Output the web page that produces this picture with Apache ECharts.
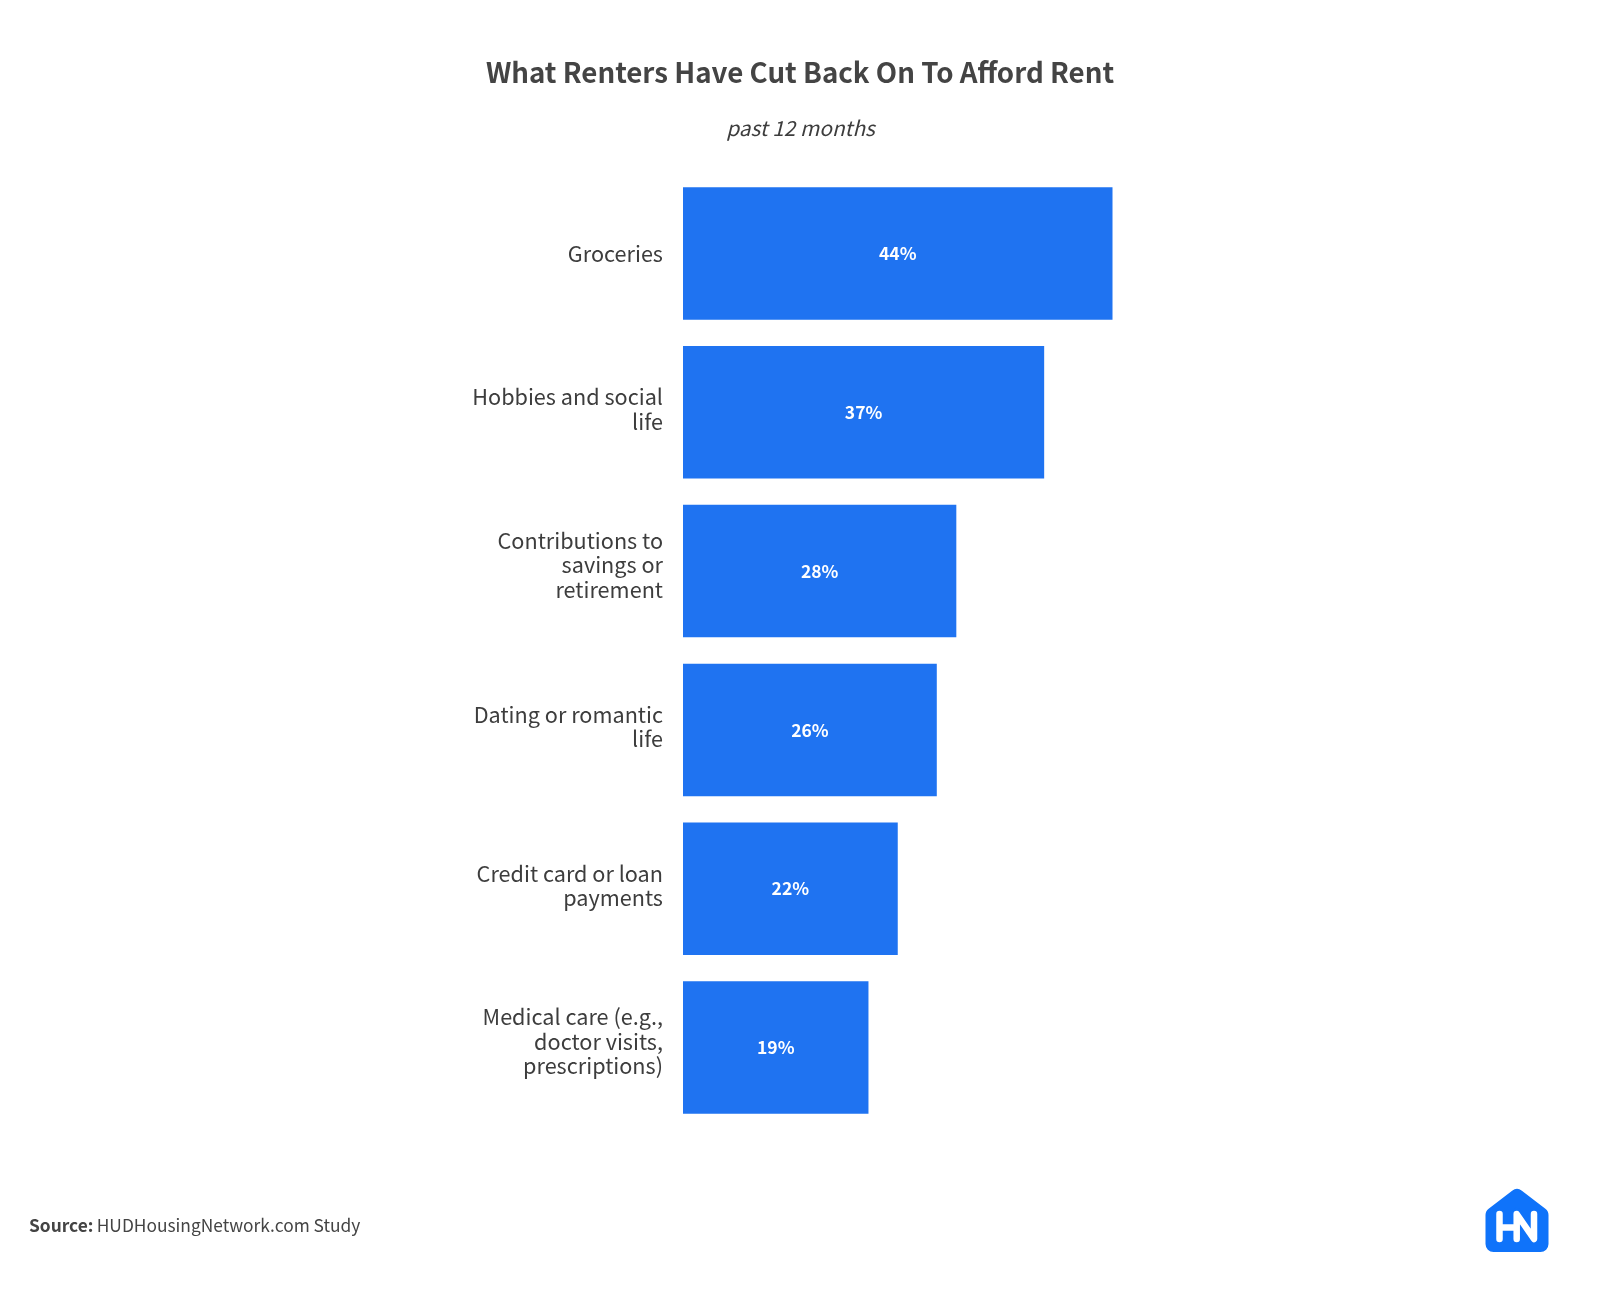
<!DOCTYPE html>
<html>
<head>
<meta charset="utf-8">
<style>html,body{margin:0;padding:0;background:#fff}#c{width:1600px;height:1300px}</style>
<script src="https://cdn.jsdelivr.net/npm/echarts@6/dist/echarts.min.js"></script>
</head>
<body>
<div id="c"></div>
<script>
const categories = [
  'Groceries',
  'Hobbies and social\nlife',
  'Contributions to\nsavings or\nretirement',
  'Dating or romantic\nlife',
  'Credit card or loan\npayments',
  'Medical care (e.g.,\ndoctor visits,\nprescriptions)'
];
const values = [44, 37, 28, 26, 22, 19];
const titleText = 'What Renters Have Cut Back On To Afford Rent';
const subtitleText = 'past 12 months';

const FONT = '"Noto Sans CJK SC", "Noto Sans", sans-serif';
const labelStyle = {fontFamily: FONT, fontSize: 21.65, lineHeight: 24.4, color: '#3d3d3d'};
const labelFormatter = v => {
  const extra = v.split('\n').length - 1;
  const body = v.split('\n').map(l => '{t|' + l + '}').join('\n');
  return extra ? body + '\n{s' + extra + '| }' : body;
};
const chart = echarts.init(document.getElementById('c'), null, {renderer: 'canvas'});
chart.setOption({
  animation: false,
  backgroundColor: '#ffffff',
  title: [
    {text: titleText, left: 795, top: 54, textAlign: 'center',
     textStyle: {fontFamily: FONT, fontSize: 27.7, fontWeight: 700, color: '#444444'}},
    {text: subtitleText, left: 795.5, top: 113, textAlign: 'center',
     textStyle: {fontFamily: FONT, fontSize: 20.8, fontStyle: 'italic', fontWeight: 400, color: '#3d3d3d'}}
  ],
  grid: {left: 683, top: 174, width: 429.5, height: 953, containLabel: false},
  xAxis: {type: 'value', min: 0, max: 44, show: false},
  yAxis: {
    type: 'category', data: categories, inverse: true,
    axisLine: {show: false}, axisTick: {show: false},
    axisLabel: {
      margin: 20, align: 'right', formatter: labelFormatter,
      rich: {
        t: labelStyle,
        s1: {fontSize: 1, lineHeight: 6},
        s2: {fontSize: 1, lineHeight: 12}
      }
    }
  },
  series: [{
    type: 'bar', data: values, barCategoryGap: '16.6%',
    itemStyle: {color: '#1f73f1'},
    label: {show: true, position: 'inside', formatter: '{c}%',
      fontFamily: FONT, fontSize: 17.5, fontWeight: 700, color: '#ffffff'}
  }],
  graphic: [
    {type: 'text', x: 29, y: 1217, style: {
      text: '{b|Source:} {r|HUDHousingNetwork.com Study}',
      rich: {
        b: {fontFamily: FONT, fontSize: 17.35, fontWeight: 700, fill: '#444444'},
        r: {fontFamily: FONT, fontSize: 17.35, fontWeight: 400, fill: '#444444'}
      }}},
    {type: 'polygon', shape: {points: [[1493.5, 1244], [1493.5, 1215], [1517, 1197], [1540.5, 1215], [1540.5, 1244]]},
      style: {fill: '#0f73fa', stroke: '#0f73fa', lineWidth: 16, lineJoin: 'round'}},
    {type: 'polyline', shape: {points: [[1499.5, 1214], [1499.5, 1239]]}, style: {stroke: '#fff', lineWidth: 6.5, lineCap: 'round', fill: 'none'}},
    {type: 'polyline', shape: {points: [[1499.5, 1227.5], [1516.7, 1227.5]]}, style: {stroke: '#fff', lineWidth: 6.5, fill: 'none'}},
    {type: 'polyline', shape: {points: [[1516.7, 1239], [1516.7, 1214], [1534, 1239], [1534, 1214]]}, style: {stroke: '#fff', lineWidth: 6.5, lineCap: 'round', lineJoin: 'round', fill: 'none'}}
  ]
});
</script>
</body>
</html>
